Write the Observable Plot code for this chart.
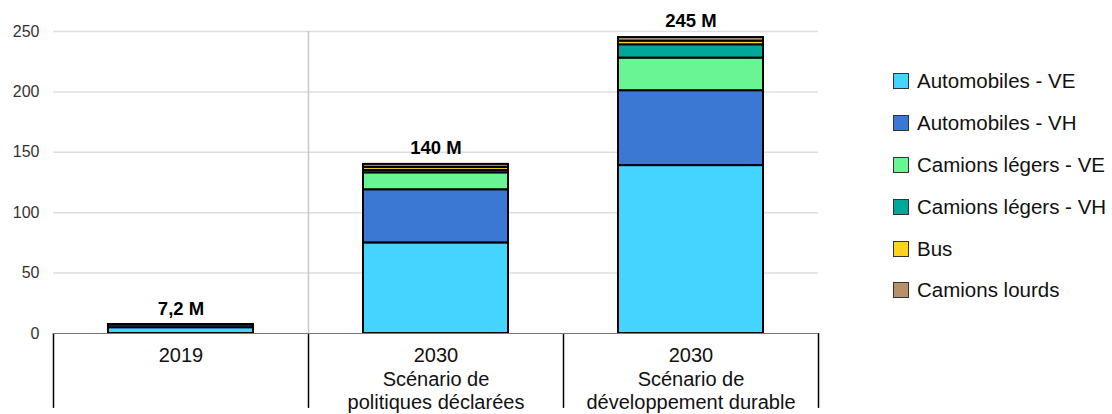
<!DOCTYPE html>
<html><head><meta charset="utf-8">
<script src="https://cdn.jsdelivr.net/npm/d3@7"></script>
<script src="https://cdn.jsdelivr.net/npm/@observablehq/plot@0.6"></script>
<style>
body{margin:0;background:#fff;font-family:"Liberation Sans",Arial,sans-serif;}
#wrap{position:relative;width:1112px;height:414px;}
#legend{position:absolute;left:893px;top:60px;}
.row{display:flex;align-items:center;height:41.9px;font-size:20.5px;color:#111;}
.sw{width:16px;height:16px;border:1px solid #333;margin-right:8px;box-sizing:border-box;}
</style></head>
<body><div id="wrap"><div id="chart"></div><div id="legend"></div></div>
<script>
const categories = ["2019", "2030 SPD", "2030 SDD"];
const categoryLabels = ["2019", "2030\nScénario de\npolitiques déclarées", "2030\nScénario de\ndéveloppement durable"];
const series = ["Automobiles - VE", "Automobiles - VH", "Camions légers - VE", "Camions légers - VH", "Bus", "Camions lourds"];
const colors = ["#45D3FF", "#3B78D4", "#6AF594", "#00A899", "#FFD21F", "#B8916A"];
const valuesAutoVE = [4.8, 75, 139];
const valuesAutoVH = [2.4, 44, 62];
const valuesCamLegVE = [0.05, 14, 27];
const valuesCamLegVH = [0.05, 2, 11];
const valuesBus = [0.05, 2.5, 3];
const valuesLourds = [0.05, 2.5, 3];
const totals = [7.2, 140, 245];
const totalLabels = ["7,2 M", "140 M", "245 M"];
const yTicks = [0, 50, 100, 150, 200, 250];

const seriesValues = [valuesAutoVE, valuesAutoVH, valuesCamLegVE, valuesCamLegVH, valuesBus, valuesLourds];
const data = [];
categories.forEach((c, i) => series.forEach((s, j) => data.push({cat: c, series: s, value: seriesValues[j][i]})));
const totalData = categories.map((c, i) => ({cat: c, total: totals[i], label: totalLabels[i]}));

const width = 830, marginLeft = 53, marginRight = 12;
const step = (width - marginLeft - marginRight) / categories.length;

const chart = Plot.plot({
  width, height: 414,
  marginLeft, marginRight, marginTop: 31, marginBottom: 81,
  style: {fontFamily: "'Liberation Sans', Arial, sans-serif", background: "#fff"},
  x: {domain: categories, padding: 0, label: null},
  y: {domain: [0, 250], label: null},
  color: {domain: series, range: colors},
  marks: [
    Plot.ruleY(yTicks.filter(d => d > 0), {stroke: "#dedede", strokeWidth: 1.5}),
    Plot.ruleX([categories[1]], {dx: -step / 2, y1: 0, y2: 250, stroke: "#c8c8c8", strokeWidth: 1.5}),
    Plot.ruleX(categories, {dx: -step / 2, y1: 0, y2: -62, stroke: "#000", strokeWidth: 1.5}),
    Plot.ruleX([categories[categories.length - 1]], {dx: step / 2, y1: 0, y2: -62, stroke: "#000", strokeWidth: 1.5}),
    Plot.barY(data, Plot.stackY({x: "cat", y: "value", fill: "series", stroke: "#000", strokeWidth: 2, insetLeft: 55, insetRight: 55})),
    Plot.ruleY([0], {stroke: "#777", strokeWidth: 1}),
    Plot.text(totalData, {x: "cat", y: "total", text: "label", dy: -16, fontSize: 18.5, fontWeight: "bold", fill: "#000"}),
    Plot.axisY({ticks: yTicks, tickSize: 0, tickPadding: 14, fontSize: 16, color: "#333"}),
    Plot.axisX({tickSize: 0, tickPadding: 12, fontSize: 20, color: "#111", lineHeight: 1.17, tickFormat: d => categoryLabels[categories.indexOf(d)]})
  ]
});
chart.style.position = "absolute";
chart.style.left = "0px";
chart.style.top = "0px";
d3.select(chart).selectAll('g[aria-label="y-axis tick label"]').style("font-size", "16px");
d3.select(chart).selectAll('g[aria-label="x-axis tick label"]').style("font-size", "20px");
document.getElementById("chart").appendChild(chart);

const legend = document.getElementById("legend");
series.forEach((s, i) => {
  const row = document.createElement("div");
  row.className = "row";
  const sw = document.createElement("div");
  sw.className = "sw";
  sw.style.background = colors[i];
  const t = document.createElement("span");
  t.textContent = s;
  row.appendChild(sw); row.appendChild(t);
  legend.appendChild(row);
});
</script></body></html>
